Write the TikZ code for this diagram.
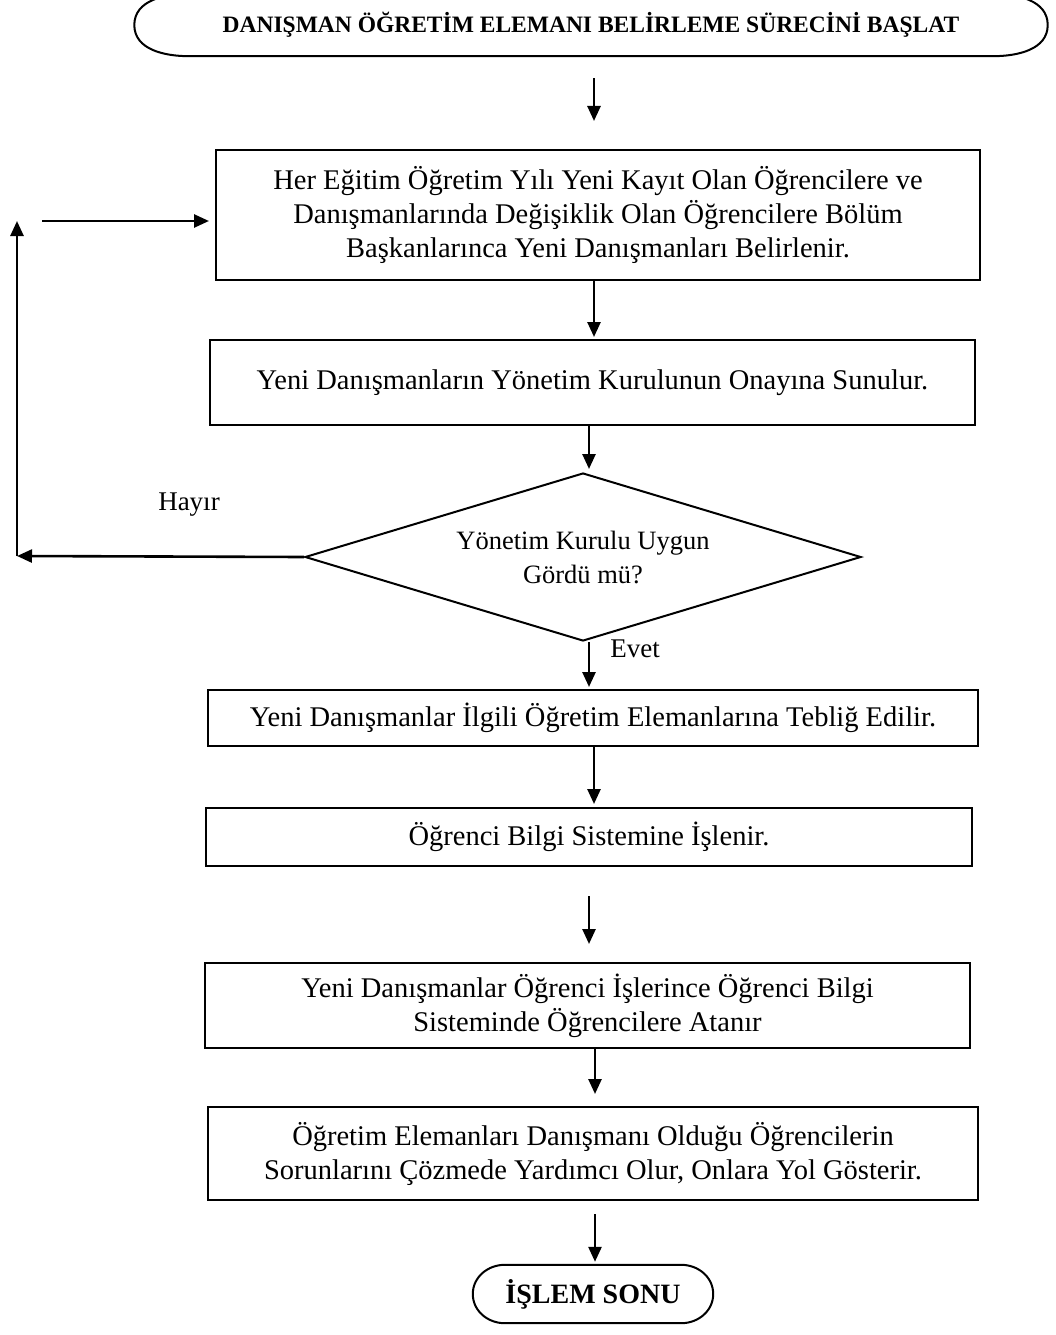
\documentclass[tikz,border=0pt]{standalone}
\usepackage{fontspec}
\setmainfont{Liberation Serif}
\usetikzlibrary{shapes.geometric,arrows.meta}
\tikzset{
  box/.style={draw, line width=2pt, inner sep=0pt, align=center,
    font=\fontsize{28.5}{34}\selectfont},
  dia/.style={draw, diamond, aspect=3.3, line width=2pt, inner sep=0pt, align=center,
    font=\fontsize{26.5}{34}\selectfont},
  arr/.style={-{Triangle[length=15pt,width=13pt]}, line width=2.6pt},
  lbl/.style={inner sep=0pt, font=\fontsize{27}{32}\selectfont},
  term/.style={inner sep=0pt, font=\bfseries\fontsize{#1}{30}\selectfont},
}
\begin{document}
\begin{tikzpicture}[x=1pt,y=-1pt]
\useasboundingbox (0,0) rectangle (1056,1335);
% start terminator
\node[term=23.5, minimum width=913pt, minimum height=62pt] (start) at (591,25)
  {DANIŞMAN ÖĞRETİM ELEMANI BELİRLEME SÜRECİNİ BAŞLAT};
\draw[line width=2pt] ([xshift=55pt]start.north west) -- ([xshift=-55pt]start.north east)
  to[out=0,in=90] (start.east) to[out=-90,in=0] ([xshift=-55pt]start.south east)
  -- ([xshift=55pt]start.south west) to[out=180,in=-90] (start.west)
  to[out=90,in=180] cycle;
% boxes
\node[box, minimum width=764pt, minimum height=130pt] (b1) at (598,215)
  {Her Eğitim Öğretim Yılı Yeni Kayıt Olan Öğrencilere ve\\
   Danışmanlarında Değişiklik Olan Öğrencilere Bölüm\\
   Başkanlarınca Yeni Danışmanları Belirlenir.};
\node[box, minimum width=765pt, minimum height=85pt] (b2) at (592.5,382.5)
  {Yeni Danışmanların Yönetim Kurulunun Onayına Sunulur.};
\node[dia, minimum width=556pt, minimum height=168pt] (d) at (583,557)
  {Yönetim Kurulu Uygun\\Gördü mü?};
\node[box, minimum width=770pt, minimum height=56pt] (b3) at (593,718)
  {Yeni Danışmanlar İlgili Öğretim Elemanlarına Tebliğ Edilir.};
\node[box, minimum width=766pt, minimum height=58pt] (b4) at (589,837)
  {Öğrenci Bilgi Sistemine İşlenir.};
\node[box, minimum width=765pt, minimum height=85pt] (b5) at (587.5,1005.5)
  {Yeni Danışmanlar Öğrenci İşlerince Öğrenci Bilgi\\
   Sisteminde Öğrencilere Atanır};
\node[box, minimum width=770pt, minimum height=93pt] (b6) at (593,1153.5)
  {Öğretim Elemanları Danışmanı Olduğu Öğrencilerin\\
   Sorunlarını Çözmede Yardımcı Olur, Onlara Yol Gösterir.};
% end terminator
\node[term=28, minimum width=240pt, minimum height=58pt] (end) at (593,1294)
  {İŞLEM SONU};
\draw[line width=2pt] ([xshift=32pt]end.north west) -- ([xshift=-32pt]end.north east)
  to[out=0,in=90] (end.east) to[out=-90,in=0] ([xshift=-32pt]end.south east)
  -- ([xshift=32pt]end.south west) to[out=180,in=-90] (end.west)
  to[out=90,in=180] cycle;
% labels
\node[lbl] (hayir) at (189,505) {Hayır};
\node[lbl] (evet) at (635,649) {Evet};
% loop coordinates
\coordinate (lb) at (17,556);
\coordinate (lt) at (17,221);
\coordinate (ls) at (42,221);
% arrows
\draw[arr, shorten <=22pt, shorten >=28pt] ([xshift=-4pt]b1.north |- start.south) -- ([xshift=-4pt]b1.north);
\draw[arr, shorten >=2pt] ([xshift=-4pt]b1.south) -- ([xshift=-4pt]b1.south |- b2.north);
\draw[arr, shorten >=3pt] ([xshift=6pt]d.north |- b2.south) -- ([xshift=6pt]d.north);
\draw[arr, shorten >=2pt] ([xshift=6pt]d.south) -- ([xshift=6pt]d.south |- b3.north);
\draw[arr, shorten >=3pt] ([xshift=1pt]b3.south) -- ([xshift=1pt]b3.south |- b4.north);
\draw[arr, shorten <=29pt, shorten >=18pt] (b4.south) -- (b4.south |- b5.north);
\draw[arr, shorten >=12pt] ([xshift=7.5pt]b5.south) -- ([xshift=7.5pt]b5.south |- b6.north);
\draw[arr, shorten <=13pt, shorten >=3pt] ([xshift=2pt]b6.south) -- ([xshift=2pt]b6.south |- end.north);
\draw[arr] (d.west) -- (lb);
\draw[arr] (lb) -- (lt);
\draw[arr, shorten >=6pt] (ls) -- (ls -| b1.west);
\end{tikzpicture}
\end{document}
